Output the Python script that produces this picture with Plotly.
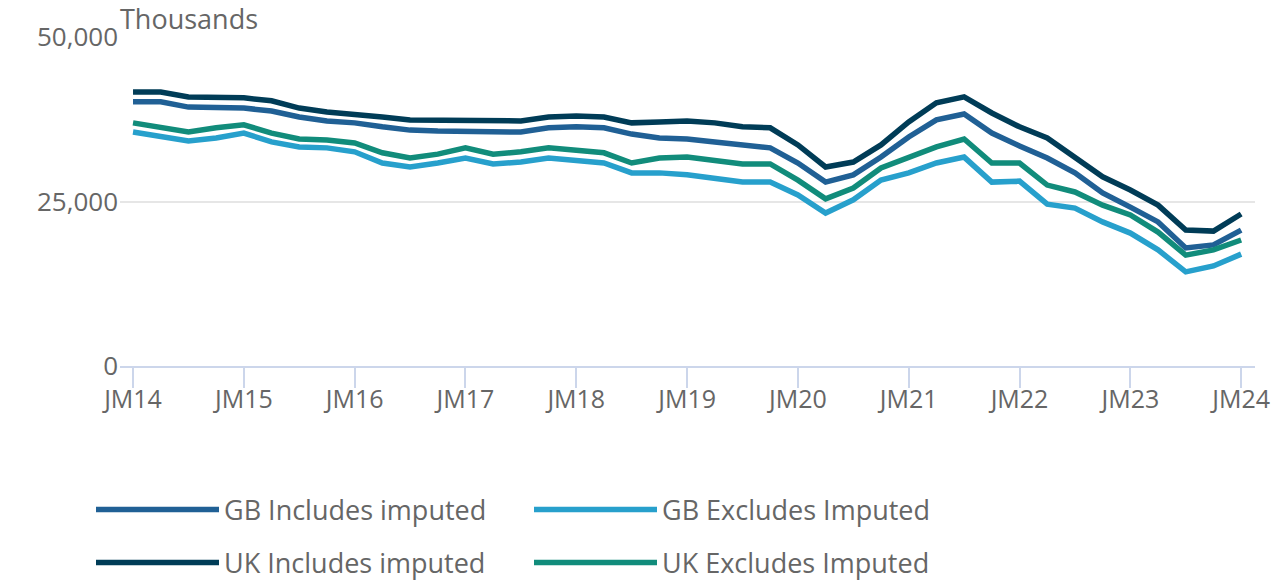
import plotly.graph_objects as go

years = list(range(14, 25))
quarters = ["JM", "AJ", "JS", "OD"]
categories = [f"{q}{y}" for y in years for q in quarters][:41]

tick_labels = [f"JM{y}" for y in years]

gb_includes = [40150, 40150, 39350, 39200, 39200, 38750, 37850, 37250, 36950, 36350,
               35850, 35700, 35700, 35550, 35550, 36200, 36350, 36200, 35250, 34650,
               34500, 34050, 33600, 33150, 30850, 27950, 29050, 31750, 34800, 37400,
               38300, 35400, 33450, 31600, 29350, 26300, 24150, 21900, 17950, 18400, 20650]
gb_excludes = [35550, 34800, 34200, 34650, 35400, 34050, 33300, 33150, 32550, 30850,
               30250, 30850, 31600, 30700, 31000, 31600, 31300, 30850, 29350, 29350,
               29050, 28600, 27950, 27950, 26000, 23250, 25250, 28250, 29350, 30850,
               31750, 27950, 28100, 24600, 24000, 21900, 20200, 17650, 14300, 15200, 17000]
uk_includes = [41650, 41650, 40900, 40750, 40750, 40300, 39200, 38600, 38300, 37850,
               37400, 37400, 37400, 37250, 37250, 37850, 38000, 37850, 36950, 37100,
               37250, 36950, 36350, 36200, 33600, 30250, 31000, 33600, 37100, 40000,
               40900, 38450, 36350, 34650, 31750, 28750, 26750, 24450, 20650, 20500, 23100]
uk_excludes = [36950, 36350, 35550, 36200, 36650, 35400, 34500, 34350, 33900, 32400,
               31600, 32200, 33150, 32200, 32550, 33150, 32850, 32400, 30850, 31600,
               31750, 31150, 30700, 30700, 28250, 25400, 27050, 30100, 31600, 33300,
               34500, 30850, 30850, 27500, 26450, 24450, 22950, 20350, 16850, 17650, 19150]

series = [
    ("GB Includes imputed", gb_includes, "#206095", "legend"),
    ("GB Excludes Imputed", gb_excludes, "#27A0CC", "legend"),
    ("UK Includes imputed", uk_includes, "#003C57", "legend2"),
    ("UK Excludes Imputed", uk_excludes, "#118C7B", "legend2"),
]

FONT = "Open Sans"
GREY = "#666666"
W, H = 1280, 582

fig = go.Figure()
for name, vals, color, lg in series:
    fig.add_trace(go.Scatter(
        x=categories, y=vals, name=name, mode="lines",
        line=dict(color=color, width=5.5), legend=lg,
    ))

legend_common = dict(
    orientation="h", xanchor="left", yanchor="middle",
    xref="container", yref="container",
    font=dict(family=FONT, size=27, color=GREY),
    itemwidth=123, entrywidth=300, entrywidthmode="pixels",
    bgcolor="rgba(0,0,0,0)", itemclick=False, itemdoubleclick=False,
)

fig.update_layout(
    width=W, height=H,
    margin=dict(l=120, r=25, t=37, b=216, autoexpand=False),
    paper_bgcolor="white", plot_bgcolor="white",
    font=dict(family=FONT, size=26, color=GREY),
    showlegend=True,
    legend=dict(x=91 / W, y=1 - 510 / H, **legend_common),
    legend2=dict(x=91 / W, y=1 - 563 / H, **legend_common),
    xaxis=dict(
        type="category", range=[-0.47, 40.5],
        tickmode="array", tickvals=[f"JM{y}" for y in years], ticktext=tick_labels,
        showgrid=False, showline=True, linecolor="#ccd6eb", linewidth=2,
        ticks="outside", ticklen=20, tickcolor="#ccd6eb", tickwidth=2,
        ticklabelstandoff=-10,
        tickfont=dict(family=FONT, size=25, color=GREY), zeroline=False,
    ),
    yaxis=dict(
        range=[0, 50000], tickvals=[0, 25000, 50000], tickformat=",",
        showgrid=True, gridcolor="#e6e6e6", gridwidth=1.5, zeroline=False,
        showline=False, ticks="", ticklabelstandoff=1,
        tickfont=dict(family=FONT, size=26, color=GREY),
    ),
    annotations=[dict(
        text="Thousands", xref="paper", yref="paper", x=0, y=1,
        xanchor="left", yanchor="bottom", showarrow=False, xshift=-2, yshift=-2,
        font=dict(family=FONT, size=27, color=GREY),
    )],
)

# remove the browser's default 8px page margin so the figure fills the window
fig.write_html("out.html", config={"displayModeBar": False},
               post_script="document.body.style.margin='0';")
